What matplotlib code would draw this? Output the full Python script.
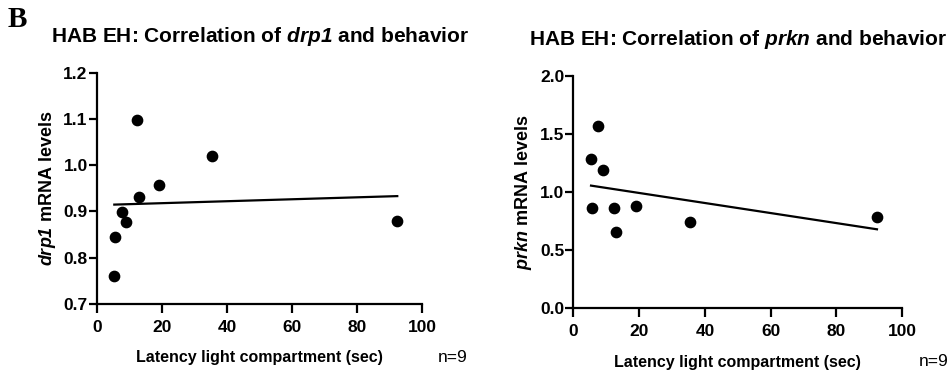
import numpy as np
import matplotlib
matplotlib.use("Agg")
import matplotlib.pyplot as plt

plt.rcParams['font.family'] = ['Liberation Sans', 'DejaVu Sans']
plt.rcParams['mathtext.fontset'] = 'custom'
plt.rcParams['mathtext.rm'] = 'Liberation Sans:bold'
plt.rcParams['mathtext.it'] = 'Liberation Sans:italic:bold'
plt.rcParams['mathtext.bf'] = 'Liberation Sans:bold'
plt.rcParams['mathtext.bfit'] = 'Liberation Sans:italic:bold'

# latency to enter light compartment (sec), per animal
latency_drp1 = [5.4, 5.6, 7.7, 9.1, 12.3, 13.1, 19.2, 35.3, 92.3]
drp1_levels = [0.761, 0.845, 0.899, 0.877, 1.097, 0.931, 0.957, 1.019, 0.880]

latency_prkn = [5.4, 5.8, 7.4, 9.0, 12.3, 12.9, 19.1, 35.4, 92.3]
prkn_levels = [1.288, 0.864, 1.573, 1.194, 0.864, 0.655, 0.881, 0.741, 0.789]

drp1_yticks = [0.7, 0.8, 0.9, 1.0, 1.1, 1.2]
prkn_yticks = [0.0, 0.5, 1.0, 1.5, 2.0]
xticks = [0, 20, 40, 60, 80, 100]
n_label = "n=9"

fig = plt.figure(figsize=(9.51, 3.73), dpi=100)
ax1 = fig.add_axes([0.1017, 0.185, 0.3424, 0.620])
ax2 = fig.add_axes([0.6028, 0.1735, 0.346, 0.623])


def corr_panel(ax, x, y, yticks, gene):
    ax.scatter(x, y, s=55, color='black', zorder=3, clip_on=False)
    # simple linear regression over the data range
    slope, icpt = np.polyfit(x, y, 1)
    xs = np.array([min(x), max(x)])
    ax.plot(xs, slope * xs + icpt, color='black', lw=1.6)
    ax.set_xlim(0, 100)
    ax.set_ylim(yticks[0], yticks[-1])
    ax.set_xticks(xticks)
    ax.set_yticks(yticks)
    ax.set_yticklabels([f"{t:.1f}" for t in yticks])
    for s in ['top', 'right']:
        ax.spines[s].set_visible(False)
    for s in ['left', 'bottom']:
        ax.spines[s].set_linewidth(1.6)
    ax.tick_params(axis='both', width=1.6, labelsize=12.5)
    ax.tick_params(axis='y', length=6, pad=0.5)
    ax.tick_params(axis='x', length=6.5, pad=5)
    for lab in ax.get_xticklabels() + ax.get_yticklabels():
        lab.set_fontweight('bold')
    ax.set_xlabel("Latency light compartment (sec)", fontsize=11.5,
                  fontweight='bold', labelpad=11)
    ax.set_ylabel(r"$\mathbfit{" + gene + r"}$ mRNA levels", fontsize=13,
                  fontweight='bold', labelpad=4)
    ax.set_title(r"HAB EH: Correlation of $\mathbfit{" + gene + r"}$ and behavior",
                 fontsize=15, fontweight='bold', pad=22)
    ax.text(1.14, -0.23, n_label, transform=ax.transAxes, fontsize=12.5,
            ha='right', va='center')


corr_panel(ax1, latency_drp1, drp1_levels, drp1_yticks, "drp1")
corr_panel(ax2, latency_prkn, prkn_levels, prkn_yticks, "prkn")

fig.text(0.008, 0.928, "B", fontsize=21, fontweight='bold',
         family='Liberation Serif')

fig.savefig("out.png", dpi=100)
